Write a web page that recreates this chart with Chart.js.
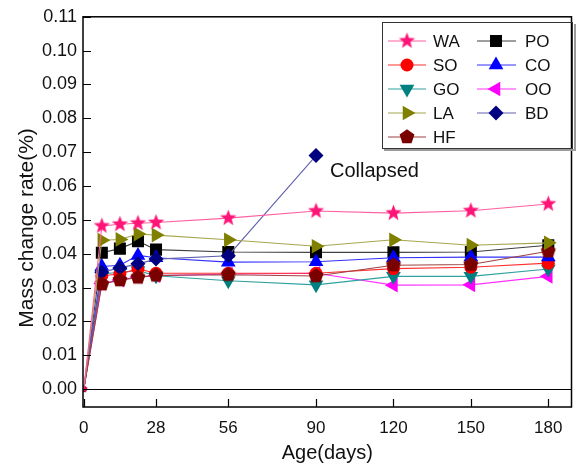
<!DOCTYPE html>
<html>
<head>
<meta charset="utf-8">
<script src="https://cdn.jsdelivr.net/npm/chart.js@4.4.0/dist/chart.umd.min.js"></script>
<style>
  html, body { margin: 0; padding: 0; background: #fff; }
  #wrap { width: 580px; height: 473px; }
</style>
</head>
<body>
<div id="wrap"><canvas id="massChart" width="580" height="473"></canvas></div>
<script>
// Mass change rate vs. curing age
const days = [0, 7, 14, 21, 28, 56, 90, 120, 150, 180];
const xTicks = [0, 28, 56, 90, 120, 150, 180];
const yTicks = [0, 0.01, 0.02, 0.03, 0.04, 0.05, 0.06, 0.07, 0.08, 0.09, 0.10, 0.11];

const waVals = [0, 0.0482, 0.0487, 0.0490, 0.0492, 0.0505, 0.0526, 0.0520, 0.0527, 0.0547];
const poVals = [0, 0.0403, 0.0415, 0.0437, 0.0412, 0.0405, 0.0404, 0.0404, 0.0405, 0.0425];
const soVals = [0, 0.0335, 0.0340, 0.0355, 0.0342, 0.0342, 0.0342, 0.0356, 0.0360, 0.0372];
const coVals = [0, 0.0362, 0.0366, 0.0395, 0.0388, 0.0375, 0.0376, 0.0388, 0.0390, 0.0390];
const goVals = [0, 0.0340, 0.0345, 0.0350, 0.0335, 0.0320, 0.0308, 0.0333, 0.0333, 0.0355];
const ooVals = [0, 0.0312, 0.0322, 0.0332, 0.0335, 0.0340, 0.0342, 0.0307, 0.0308, 0.0333];
const laVals = [0, 0.0440, 0.0442, 0.0458, 0.0455, 0.0441, 0.0422, 0.0441, 0.0425, 0.0432];
const bdVals = [0, 0.0345, 0.0358, 0.0370, 0.0384, 0.0394, 0.0690];
const hfVals = [0, 0.0310, 0.0322, 0.0330, 0.0336, 0.0338, 0.0334, 0.0366, 0.0368, 0.0407];

const FONT = '"Liberation Sans", Arial, Helvetica, sans-serif';

// ---- custom marker images (5-point star, pentagon) ----
function polyImage(color, points, outer, inner) {
  const size = Math.ceil(outer * 2) + 2;
  const c = document.createElement('canvas');
  c.width = size; c.height = size;
  const g = c.getContext('2d');
  const n = inner ? points * 2 : points;
  g.beginPath();
  for (let i = 0; i < n; i++) {
    const r = inner && i % 2 ? inner : outer;
    const a = -Math.PI / 2 + i * 2 * Math.PI / n;
    const px = size / 2 + r * Math.cos(a), py = size / 2 + r * Math.sin(a);
    i ? g.lineTo(px, py) : g.moveTo(px, py);
  }
  g.closePath();
  g.fillStyle = color;
  g.fill();
  return c;
}

const starBig = polyImage('#ff1478', 5, 8.5, 3.6);
const starSmall = polyImage('#ff1478', 5, 4, 1.7);
const pentBig = polyImage('#7a0000', 5, 7.8);
const pentSmall = polyImage('#7a0000', 5, 3.5);

function series(label, data, color, lineColor, style, radius, rotation) {
  return {
    label, data: days.slice(0, data.length).map((d, i) => ({ x: d, y: data[i] })),
    borderColor: lineColor, backgroundColor: color,
    pointBackgroundColor: color, pointBorderColor: color,
    borderWidth: 1.1, pointBorderWidth: 0,
    pointStyle: typeof style === 'object'
      ? (ctx => ctx.dataIndex === 0 ? style.small : style.big)
      : style,
    pointRadius: ctx => ctx.dataIndex === 0 ? 3 : radius,
    pointRotation: rotation || 0,
    tension: 0, fill: false,
    legendStyle: typeof style === 'object' ? style.big : style
  };
}

// first dataset is painted on top
const datasets = [
  series('WA', waVals, '#ff1478', '#ff5fa0', { big: starBig, small: starSmall }, 8),
  series('LA', laVals, '#808000', '#a6a650', 'triangle', 8.5, 90),
  series('HF', hfVals, '#7a0000', '#a04040', { big: pentBig, small: pentSmall }, 8),
  series('BD', bdVals, '#000080', '#6060b0', 'rectRot', 7.5),
  series('CO', coVals, '#0000ff', '#3030ff', 'triangle', 8.5),
  series('PO', poVals, '#000000', '#404040', 'rect', 8.5),
  series('SO', soVals, '#ff0000', '#ff3030', 'circle', 6.5),
  series('GO', goVals, '#008080', '#30a0a0', 'triangle', 8.5, 180),
  series('OO', ooVals, '#ff00ff', '#ff30ff', 'triangle', 8.5, 270)
];

const legendRows = [['WA', 'PO'], ['SO', 'CO'], ['GO', 'OO'], ['LA', 'BD'], ['HF', null]];

// frame, inward ticks, zero line, legend box, note
const framePlugin = {
  id: 'frame',
  beforeDatasetsDraw(chart) {
    const { ctx, chartArea: a, scales: { y } } = chart;
    const y0 = Math.round(y.getPixelForValue(0)) + 0.5;
    ctx.save();
    ctx.strokeStyle = '#000';
    ctx.lineWidth = 1;
    ctx.beginPath();
    ctx.moveTo(a.left, y0); ctx.lineTo(a.right, y0);
    ctx.stroke();
    ctx.restore();
  },
  afterDraw(chart) {
    const { ctx, chartArea: a, scales: { x, y } } = chart;
    ctx.save();
    ctx.strokeStyle = '#000';
    ctx.lineWidth = 1.5;
    ctx.strokeRect(a.left, a.top, a.right - a.left, a.bottom - a.top);

    ctx.lineWidth = 1.2;
    ctx.beginPath();
    yTicks.forEach(v => {
      const py = Math.round(y.getPixelForValue(v)) + 0.5;
      ctx.moveTo(a.left, py); ctx.lineTo(a.left + 8, py);
    });
    xTicks.forEach(v => {
      const px = Math.round(x.getPixelForValue(v)) + 0.5;
      ctx.moveTo(px, a.bottom); ctx.lineTo(px, a.bottom - 8);
    });
    ctx.stroke();

    // y title
    ctx.fillStyle = '#111';
    ctx.font = '21px ' + FONT;
    ctx.textAlign = 'center';
    ctx.textBaseline = 'middle';
    ctx.translate(27, 228);
    ctx.rotate(-Math.PI / 2);
    ctx.fillText('Mass change rate(%)', 0, 0);
    ctx.restore();

    // note beside the last BD point
    ctx.save();
    ctx.fillStyle = '#111';
    ctx.font = '20px ' + FONT;
    ctx.textBaseline = 'middle';
    ctx.fillText('Collapsed', x.getPixelForValue(90) + 14, y.getPixelForValue(0.069) + 16);
    ctx.restore();

    // legend
    ctx.save();
    ctx.strokeStyle = '#9a9a9a';
    ctx.lineWidth = 2;
    ctx.beginPath();
    ctx.moveTo(575, 24); ctx.lineTo(575, 150); ctx.lineTo(384, 150);
    ctx.stroke();
    ctx.strokeStyle = '#333';
    ctx.lineWidth = 1;
    ctx.strokeRect(382.5, 22.5, 190, 126);
    ctx.font = '17px ' + FONT;
    ctx.textBaseline = 'middle';
    ctx.textAlign = 'left';
    const cols = [{ l: 388, r: 426, m: 407, t: 433 }, { l: 477, r: 516, m: 496, t: 525 }];
    legendRows.forEach((row, ri) => {
      const py = 41 + ri * 24;
      row.forEach((name, ci) => {
        if (!name) return;
        const ds = datasets.find(d => d.label === name);
        const c = cols[ci];
        ctx.strokeStyle = ds.borderColor;
        ctx.lineWidth = 1.1;
        ctx.beginPath();
        ctx.moveTo(c.l, py); ctx.lineTo(c.r, py);
        ctx.stroke();
        ctx.fillStyle = ds.pointBackgroundColor;
        ctx.strokeStyle = ds.pointBorderColor;
        ctx.lineWidth = 0;
        const r = typeof ds.pointRadius === 'function' ? ds.pointRadius({ dataIndex: 1 }) : ds.pointRadius;
        Chart.helpers.drawPoint(ctx, { pointStyle: ds.legendStyle, radius: r, rotation: ds.pointRotation, borderWidth: 0 }, (c.m), py);
        ctx.fillStyle = '#111';
        ctx.fillText(name, c.t, py + 1);
      });
    });
    ctx.restore();
  }
};

new Chart(document.getElementById('massChart'), {
  type: 'line',
  data: { datasets },
  options: {
    responsive: false,
    animation: false,
    layout: { padding: { top: 15, right: 5, left: 0, bottom: 0 } },
    plugins: { legend: { display: false }, tooltip: { enabled: false } },
    scales: {
      x: {
        type: 'linear', min: -0.3, max: 189,
        afterBuildTicks: s => { s.ticks = xTicks.map(v => ({ value: v })); },
        afterFit: s => { s.height = 66; },
        grid: { display: false, drawTicks: false },
        border: { display: false },
        ticks: { color: '#111', font: { family: FONT, size: 17 }, padding: 11, maxRotation: 0, callback: v => String(v) },
        title: { display: true, text: 'Age(days)', color: '#111', font: { family: FONT, size: 20 }, padding: { top: 0, bottom: 8 } }
      },
      y: {
        min: -0.0053, max: 0.11,
        afterBuildTicks: s => { s.ticks = yTicks.map(v => ({ value: v })); },
        afterFit: s => { s.width = 83; },
        grid: { display: false, drawTicks: false },
        border: { display: false },
        ticks: { color: '#111', font: { family: FONT, size: 18 }, padding: 6, callback: v => v.toFixed(2) }
      }
    }
  },
  plugins: [framePlugin]
});
</script>
</body>
</html>
